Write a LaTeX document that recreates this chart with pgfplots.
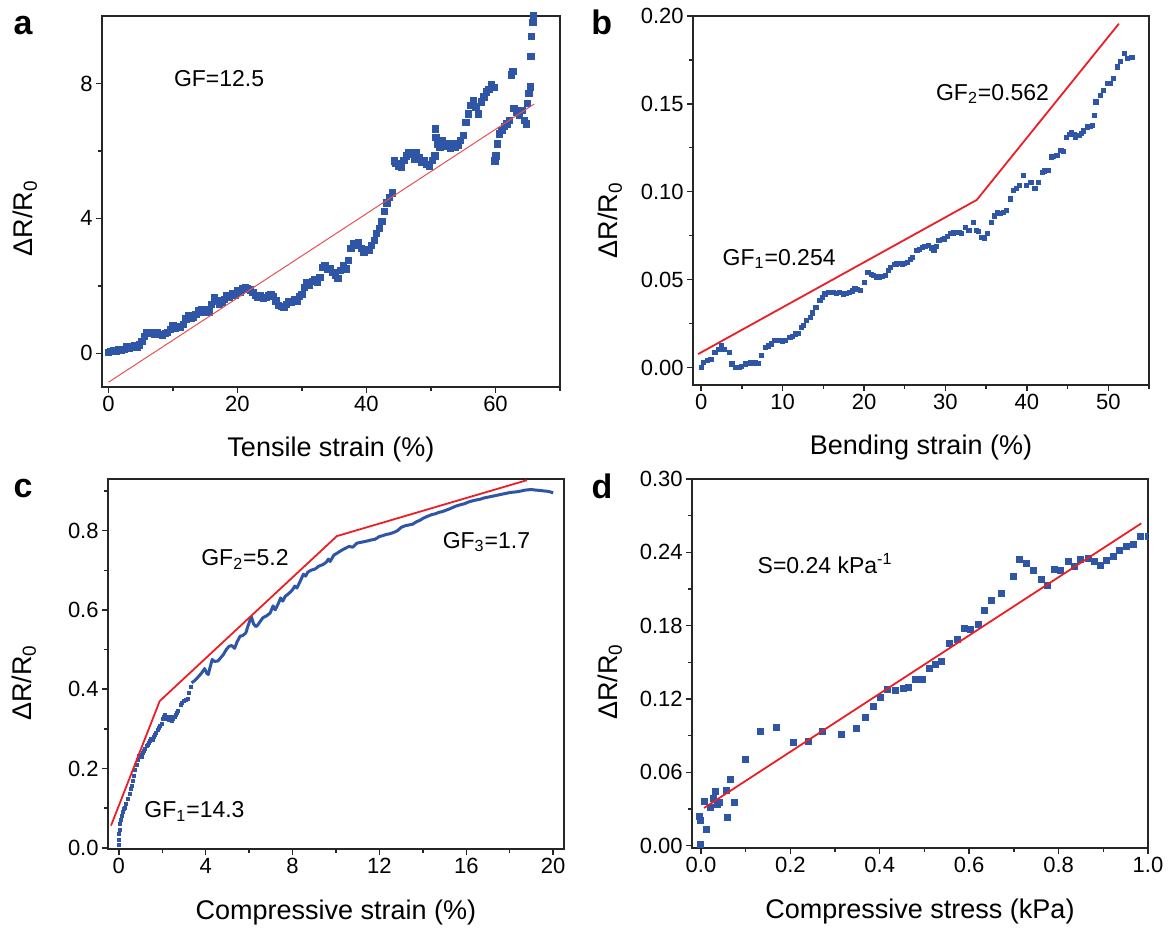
\documentclass[border=0pt]{standalone}
\usepackage{fontspec}
\setmainfont{Liberation Sans}
\usepackage{pgfplots}
\pgfplotsset{compat=1.18}

\definecolor{dblue}{RGB}{47,86,166}
\definecolor{fitred}{RGB}{234,30,36}
\definecolor{thinred}{RGB}{232,80,80}

\pgfplotsset{
  panel/.style={
    scale only axis,
    clip mode=individual,
    axis line style={line width=0.8pt, black!85},
    tick style={line width=0.7pt, black!85},
    tick align=outside,
    xtick pos=bottom, ytick pos=left,
    major tick length=3pt, minor tick length=1.8pt,
    tick label style={font=\fontsize{11}{13}\selectfont},
    /pgf/number format/assume math mode=true,
    xticklabel style={inner sep=1.5pt},
    yticklabel style={inner sep=1.5pt},
    label style={font=\fontsize{13.5}{16}\selectfont},
    xlabel style={at={(axis description cs:0.5,0)}, anchor=base, yshift=-35pt},
    ylabel={ΔR/R\textsubscript{0}},
  },
  dots/.style={only marks, mark=square*, color=dblue, mark options={line width=0pt, draw=dblue, fill=dblue}},
}
\tikzset{
  ann/.style={anchor=base west, inner sep=0pt, font=\fontsize{11.5}{14}\selectfont},
  letter/.style={anchor=base west, inner sep=0pt, font=\fontsize{17}{20}\selectfont\bfseries},
}

\begin{document}
\begin{tikzpicture}
\path[use as bounding box] (0,0) rectangle (585.5pt,466pt);

% ---------------- panel a ----------------
\begin{axis}[panel, at={(51pt,272.5pt)}, anchor=south west,
  width=229pt, height=185.5pt,
  xmin=-1, xmax=70, ymin=-1, ymax=10,
  xtick={0,20,40,60}, minor xtick={10,30,50,70},
  ytick={0,4,8}, minor ytick={2,6},
  xlabel={Tensile strain (\%)},
  ylabel style={at={(axis description cs:-0.168,0.455)}, anchor=center}]
\addplot[dots, mark size=1.6pt] coordinates {
(0,0.03)(0.4,0.05)(0.8,0.08)(1.2,0.06)(1.6,0.1)(2.0,0.09)(2.4,0.12)(2.8,0.18)(3.2,0.15)(3.6,0.2)
(4.0,0.22)(4.4,0.18)(4.8,0.25)(5.2,0.35)(5.6,0.5)(6.0,0.62)(6.4,0.58)(6.8,0.6)(7.2,0.56)(7.6,0.6)
(8.0,0.55)(8.4,0.52)(8.8,0.58)(9.2,0.62)(9.6,0.7)(10.0,0.82)(10.4,0.75)(10.8,0.8)(11.2,0.76)(11.6,0.85)
(12.0,1.02)(12.4,1.12)(12.8,1.05)(13.2,1.08)(13.6,1.15)(14.0,1.25)(14.4,1.3)(14.8,1.2)(15.2,1.3)(15.6,1.22)
(16.0,1.45)(16.4,1.65)(16.8,1.55)(17.2,1.45)(17.6,1.5)(18.0,1.6)(18.4,1.7)(18.8,1.65)(19.2,1.78)(19.6,1.72)
(20.0,1.85)(20.4,1.8)(20.8,1.9)(21.2,1.95)(21.6,1.9)(22.0,1.88)(22.4,1.8)(22.8,1.72)(23.2,1.65)(23.6,1.7)
(24.0,1.62)(24.4,1.66)(24.8,1.7)(25.2,1.75)(25.6,1.68)(26.0,1.55)(26.4,1.42)(26.8,1.38)(27.2,1.35)(27.6,1.45)
(28.0,1.52)(28.4,1.5)(28.8,1.6)(29.2,1.55)(29.6,1.68)(30.0,1.75)(30.4,1.95)(30.8,2.08)(31.2,2.02)(31.6,2.12)
(32.0,2.18)(32.4,2.1)(32.8,2.25)(33.2,2.55)(33.6,2.6)(34.0,2.48)(34.4,2.52)(34.8,2.4)(35.2,2.3)(35.6,2.22)
(36.0,2.45)(36.4,2.6)(36.8,2.5)(37.2,2.75)(37.6,3.1)(38.0,3.25)(38.4,3.2)(38.8,3.28)(39.2,3.1)(39.6,3.0)
(40.0,3.08)(40.4,3.05)(40.8,3.2)(41.2,3.35)(41.6,3.55)(42.0,3.7)(42.4,3.9)(42.8,4.2)(43.2,4.45)(43.6,4.62)
(44.0,4.75)(44.3,5.7)(44.6,5.62)(45.0,5.55)(45.4,5.5)(45.8,5.72)(46.2,5.85)(46.6,5.95)(47.0,5.9)(47.4,5.75)
(47.8,5.95)(48.2,5.8)(48.6,5.65)(49.0,5.72)(49.4,5.6)(49.8,5.55)(50.2,5.72)(50.6,5.85)(50.7,6.65)(50.8,6.4)
(51.0,6.2)(51.4,6.1)(51.8,6.3)(52.2,6.15)(52.6,6.22)(53.0,6.08)(53.4,6.2)(53.8,6.1)(54.2,6.18)(54.6,6.3)
(55.0,6.45)(55.4,6.85)(55.8,7.1)(56.2,7.35)(56.6,7.5)(57.0,7.3)(57.4,7.1)(57.8,7.45)(58.2,7.6)(58.6,7.75)
(59.0,7.82)(59.4,7.95)(59.8,7.88)(59.9,5.7)(60.1,5.85)(60.3,6.2)(60.6,6.5)(61.0,6.6)(61.4,6.72)(61.8,6.8)
(62.2,6.9)(62.5,8.25)(62.7,8.35)(62.9,7.25)(63.3,7.15)(63.7,7.05)(64.1,7.2)(64.5,6.9)(64.8,6.8)(65.0,7.4)
(65.2,7.7)(65.4,7.9)(65.5,8.8)(65.6,9.4)(65.8,9.8)(65.9,10.0)
};
\addplot[thinred, line width=0.5pt] coordinates {(0,-0.86)(66,7.39)};
\node[ann] at (axis cs:10.1,7.9) {GF=12.5};
\node[letter] at (axis description cs:-0.194,0.949) {a};
\end{axis}

% ---------------- panel b ----------------
\begin{axis}[panel, at={(346.5pt,273.5pt)}, anchor=south west,
  width=228pt, height=184.5pt,
  xmin=-1, xmax=55, ymin=-0.01, ymax=0.20,
  xtick={0,10,20,30,40,50}, minor xtick={5,15,25,35,45,55},
  ytick={0,0.05,0.10,0.15,0.20}, minor ytick={0.025,0.075,0.125,0.175},
  yticklabel style={/pgf/number format/.cd, fixed, fixed zerofill, precision=2},
  xlabel={Bending strain (\%)},
  ylabel style={at={(axis description cs:-0.182,0.447)}, anchor=center}]
\addplot[dots, mark size=1.05pt] coordinates {
(0,0.000)(0.3,0.0028)(0.8,0.0038)(1.2,0.0047)(1.7,0.0085)(2.2,0.0104)(2.5,0.0123)(2.9,0.0104)(3.5,0.0085)(3.8,0.0019)
(4.2,0.000)(4.7,0.0000)(5.0,0.0005)(5.4,0.0019)(5.8,0.0022)(6.1,0.0028)(6.4,0.0025)(6.7,0.0028)(7.0,0.0024)(7.4,0.0066)
(7.9,0.0114)(8.3,0.0122)(8.6,0.0133)(9.0,0.0152)(9.4,0.0155)(9.7,0.0152)(10.0,0.0150)(10.4,0.0152)(10.9,0.0171)(11.2,0.0178)
(11.6,0.019)(12.0,0.0195)(12.3,0.0228)(12.6,0.024)(12.9,0.0266)(13.4,0.0285)(13.7,0.031)(14.1,0.0342)(14.6,0.038)(14.9,0.0398)
(15.2,0.0418)(15.6,0.0425)(15.9,0.0427)(16.3,0.0425)(16.6,0.0422)(17.0,0.0425)(17.5,0.0418)(17.8,0.0422)(18.2,0.0427)(18.6,0.0435)
(18.9,0.0446)(19.2,0.0442)(19.6,0.044)(20.1,0.0484)(20.5,0.0541)(20.9,0.053)(21.2,0.0522)(21.6,0.0515)(21.9,0.0513)(22.3,0.0518)
(22.6,0.0522)(23.0,0.055)(23.3,0.057)(23.7,0.0585)(24.0,0.0589)(24.4,0.0592)(24.7,0.0589)(25.0,0.0592)(25.3,0.0598)(25.7,0.0612)
(26.0,0.0627)(26.5,0.0665)(26.8,0.0672)(27.2,0.0684)(27.5,0.069)(27.9,0.0693)(28.3,0.068)(28.6,0.0665)(28.9,0.069)(29.2,0.0722)
(29.6,0.0728)(29.9,0.0731)(30.3,0.0745)(30.6,0.076)(31.0,0.0765)(31.3,0.0769)(31.7,0.0768)(32.0,0.076)(32.5,0.0798)(32.9,0.0779)
(33.4,0.0826)(33.8,0.0779)(34.1,0.0775)(34.5,0.0741)(34.8,0.0735)(35.2,0.076)(35.7,0.0826)(36.0,0.0862)(36.4,0.0883)(36.7,0.0878)
(37.1,0.0883)(37.5,0.0893)(38.0,0.0959)(38.4,0.1007)(38.7,0.1018)(39.1,0.1035)(39.6,0.1092)(40.0,0.1035)(40.5,0.1054)(41.0,0.1016)
(41.4,0.1054)(41.9,0.1111)(42.2,0.1118)(42.6,0.1121)(43.0,0.1197)(43.3,0.1200)(43.7,0.1206)(44.2,0.1235)(44.5,0.123)(44.9,0.131)
(45.2,0.1325)(45.5,0.1339)(45.8,0.1325)(46.0,0.131)(46.4,0.1318)(46.7,0.133)(47.0,0.1345)(47.4,0.1368)(47.8,0.1372)(48.1,0.1377)
(48.3,0.1434)(48.5,0.151)(49.0,0.1548)(49.4,0.1576)(49.9,0.1614)(50.3,0.1615)(50.6,0.1643)(51.1,0.171)(51.5,0.174)(52.0,0.1785)
(52.4,0.1757)(52.9,0.1766)
};
\addplot[fitred, line width=0.9pt] coordinates {(-0.37,0.0076)(33.84,0.0953)(51.3,0.1956)};
\node[ann] at (axis cs:2.6,0.0581) {GF\textsubscript{1}=0.254};
\node[ann] at (axis cs:28.8,0.152) {GF\textsubscript{2}=0.562};
\node[letter] at (axis description cs:-0.224,0.9485) {b};
\end{axis}

% ---------------- panel c ----------------
\begin{axis}[panel, at={(54pt,41.5pt)}, anchor=south west,
  width=228pt, height=185pt,
  xmin=-0.5, xmax=20.5, ymin=-0.003, ymax=0.93,
  xtick={0,4,8,12,16,20}, minor xtick={2,6,10,14,18},
  ytick={0,0.2,0.4,0.6,0.8}, minor ytick={0.1,0.3,0.5,0.7,0.9},
  yticklabel style={/pgf/number format/.cd, fixed, fixed zerofill, precision=1},
  xlabel={Compressive strain (\%)},
  ylabel style={at={(axis description cs:-0.184,0.449)}, anchor=center}]
\addplot[dots, mark size=0.75pt] coordinates {
(0,0.008)(0.0,0.02)(0.02,0.035)(0.03,0.046)(0.05,0.06)(0.1,0.071)(0.15,0.08)(0.2,0.09)(0.25,0.097)(0.3,0.1)
(0.35,0.11)(0.42,0.122)(0.5,0.135)(0.55,0.148)(0.6,0.155)(0.65,0.168)(0.7,0.18)(0.76,0.197)(0.82,0.21)(0.88,0.222)
(0.93,0.231)(1.0,0.235)(1.05,0.228)(1.1,0.24)(1.15,0.245)(1.2,0.25)(1.28,0.256)(1.35,0.26)(1.4,0.265)(1.45,0.269)
(1.5,0.275)(1.55,0.272)(1.6,0.28)(1.65,0.285)(1.71,0.29)(1.78,0.298)(1.85,0.303)(1.9,0.306)(1.97,0.311)(2.05,0.325)
(2.1,0.33)(2.14,0.335)(2.2,0.325)(2.25,0.33)(2.31,0.322)(2.4,0.33)(2.45,0.32)(2.5,0.325)(2.57,0.33)(2.65,0.335)
(2.7,0.34)(2.74,0.345)(2.85,0.36)(2.9,0.365)(3.0,0.37)(3.1,0.372)(3.18,0.374)(3.25,0.39)(3.3,0.405)
};
\addplot[color=dblue, line width=1.5pt, line join=round] coordinates {
(3.35,0.416)(3.5,0.422)(3.69,0.433)(3.8,0.44)(3.95,0.452)(4.05,0.44)(4.12,0.437)(4.2,0.455)(4.3,0.475)(4.4,0.47)
(4.56,0.471)(4.7,0.48)(4.81,0.487)(4.95,0.5)(5.07,0.508)(5.2,0.51)(5.33,0.503)(5.45,0.52)(5.59,0.534)(5.7,0.535)
(5.85,0.542)(5.95,0.56)(6.05,0.575)(6.11,0.582)(6.2,0.565)(6.3,0.558)(6.37,0.56)(6.5,0.57)(6.63,0.58)(6.8,0.585)
(6.97,0.592)(7.1,0.61)(7.2,0.6)(7.32,0.613)(7.45,0.63)(7.55,0.622)(7.66,0.634)(7.8,0.64)(7.9,0.645)(8.0,0.651)
(8.1,0.66)(8.2,0.655)(8.35,0.672)(8.5,0.69)(8.6,0.685)(8.7,0.695)(8.85,0.7)(9.04,0.703)(9.2,0.71)(9.39,0.714)
(9.55,0.72)(9.65,0.728)(9.73,0.722)(9.9,0.738)(10.08,0.744)(10.25,0.75)(10.42,0.755)(10.6,0.76)(10.77,0.758)(10.95,0.768)
(11.11,0.77)(11.3,0.772)(11.46,0.774)(11.6,0.776)(11.8,0.778)(12.0,0.785)(12.15,0.787)(12.3,0.79)(12.49,0.792)(12.65,0.795)
(12.84,0.8)(13.0,0.808)(13.18,0.812)(13.35,0.814)(13.53,0.816)(13.7,0.822)(13.87,0.826)(14.05,0.832)(14.22,0.836)(14.4,0.84)
(14.56,0.842)(14.75,0.846)(14.91,0.848)(15.1,0.852)(15.25,0.855)(15.45,0.86)(15.6,0.863)(15.8,0.866)(15.94,0.868)(16.1,0.872)
(16.29,0.875)(16.45,0.877)(16.64,0.879)(16.8,0.882)(16.98,0.884)(17.15,0.886)(17.33,0.888)(17.5,0.89)(17.67,0.892)(17.85,0.894)
(18.02,0.896)(18.2,0.897)(18.36,0.898)(18.55,0.9)(18.71,0.902)(18.9,0.903)(19.05,0.903)(19.2,0.902)(19.4,0.901)(19.55,0.9)
(19.74,0.899)(19.9,0.897)(20.0,0.895)
};
\addplot[fitred, line width=0.9pt] coordinates {(-0.36,0.056)(1.88,0.37)(10.04,0.786)(18.79,0.927)};
\node[ann] at (axis cs:3.78,0.712) {GF\textsubscript{2}=5.2};
\node[ann] at (axis cs:14.9,0.755) {GF\textsubscript{3}=1.7};
\node[ann] at (axis cs:1.16,0.076) {GF\textsubscript{1}=14.3};
\node[letter] at (axis description cs:-0.208,0.949) {c};
\end{axis}

% ---------------- panel d ----------------
\begin{axis}[panel, at={(346pt,42pt)}, anchor=south west,
  width=228pt, height=184.5pt,
  xmin=-0.02, xmax=1.0, ymin=-0.002, ymax=0.30,
  clip marker paths=true,
  xtick={0,0.2,0.4,0.6,0.8,1.0}, minor xtick={0.1,0.3,0.5,0.7,0.9},
  ytick={0,0.06,0.12,0.18,0.24,0.30}, minor ytick={0.03,0.09,0.15,0.21,0.27},
  xticklabel style={/pgf/number format/.cd, fixed, fixed zerofill, precision=1},
  yticklabel style={/pgf/number format/.cd, fixed, fixed zerofill, precision=2},
  xlabel={Compressive stress (kPa)},
  ylabel style={at={(axis description cs:-0.18,0.45)}, anchor=center}]
\addplot[dots, mark size=1.5pt] coordinates {
(-0.004,0.0237)(-0.002,0.0205)(0,0.0005)(0.007,0.0363)(0.013,0.0128)(0.021,0.0308)(0.027,0.0382)(0.032,0.0445)
(0.038,0.0333)(0.042,0.0355)(0.058,0.045)(0.059,0.0232)(0.065,0.0537)(0.074,0.0355)(0.099,0.0704)(0.133,0.0935)
(0.170,0.0968)(0.207,0.0845)(0.241,0.0851)(0.272,0.0933)(0.314,0.0905)(0.349,0.0954)(0.368,0.1044)(0.385,0.1137)
(0.402,0.1208)(0.418,0.1274)(0.435,0.1268)(0.452,0.1287)(0.464,0.129)(0.479,0.1361)(0.496,0.1361)(0.511,0.1451)
(0.525,0.1478)(0.539,0.1505)(0.556,0.165)(0.573,0.1683)(0.59,0.1778)(0.603,0.1767)(0.62,0.1811)(0.634,0.1923)
(0.65,0.2007)(0.672,0.2064)(0.7,0.2206)(0.713,0.2345)(0.729,0.231)(0.744,0.225)(0.761,0.2176)(0.775,0.2127)
(0.79,0.2258)(0.805,0.2253)(0.822,0.2326)(0.836,0.2283)(0.85,0.234)(0.866,0.2353)(0.88,0.2326)(0.893,0.2296)
(0.908,0.2332)(0.923,0.2367)(0.937,0.2413)(0.952,0.2446)(0.968,0.2468)(0.983,0.2528)(1.0,0.2528)
};
\addplot[fitred, line width=0.9pt] coordinates {(0.007,0.0308)(0.985,0.2637)};
\node[ann] at (axis cs:0.126,0.2226) {S=0.24 kPa\textsuperscript{-1}};
\node[letter] at (axis description cs:-0.221,0.948) {d};
\end{axis}
\end{tikzpicture}
\end{document}
